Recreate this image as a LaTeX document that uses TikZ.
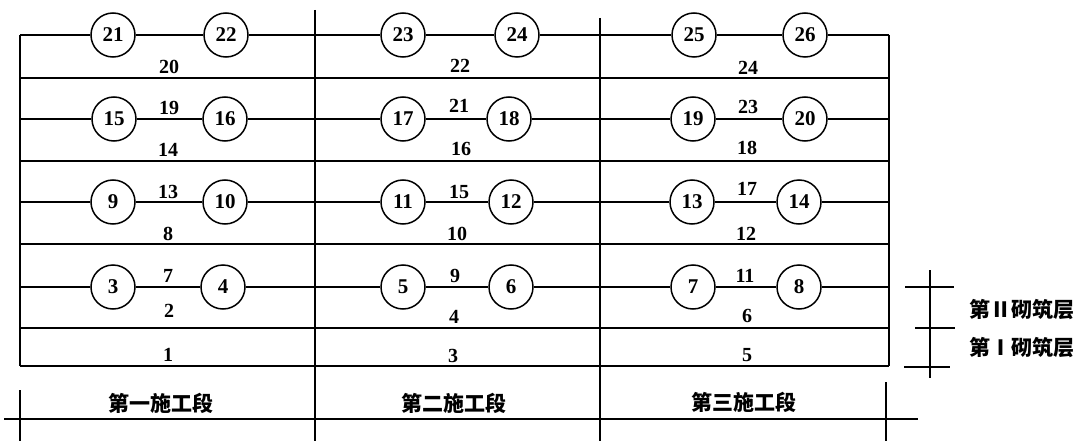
\documentclass[tikz,border=0pt]{standalone}
\usepackage{fontspec}
\setmainfont{Liberation Serif}
\newfontfamily\cjk{Noto Sans CJK SC}
\begin{document}
\begin{tikzpicture}[x=1pt,y=-1pt,line width=1.5pt,
  nd/.style={circle,draw,line width=1.5pt,minimum size=44pt,inner sep=0pt,font=\fontsize{21}{21}\selectfont\bfseries},
  lbl/.style={inner sep=0pt,font=\fontsize{20}{20}\selectfont\bfseries},
  cjkl/.style={inner sep=0pt,font=\fontsize{21}{21}\selectfont\cjk\bfseries},
  ln/.style={line width=1.6pt},
  bd/.style={line width=2.2pt}]
\useasboundingbox (0,0) rectangle (1091,441);
% row end coordinates
\coordinate (L1) at (20,35);  \coordinate (R1) at (889,35);
\coordinate (L2) at (20,119); \coordinate (R2) at (889,119);
\coordinate (L3) at (20,202); \coordinate (R3) at (889,202);
\coordinate (L4) at (20,287); \coordinate (R4) at (889,287);
\coordinate (H1l) at (20,78);  \coordinate (H1r) at (889,78);
\coordinate (H2l) at (20,161); \coordinate (H2r) at (889,161);
\coordinate (H3l) at (20,244); \coordinate (H3r) at (889,244);
\coordinate (H4l) at (20,328); \coordinate (H4r) at (889,328);
\coordinate (H5l) at (20,366); \coordinate (H5r) at (889,366);
% circles
\node[nd] (n21) at (113,35) {21};
\node[nd] (n22) at (226,35) {22};
\node[nd] (n23) at (403,35) {23};
\node[nd] (n24) at (517,35) {24};
\node[nd] (n25) at (694,35) {25};
\node[nd] (n26) at (805,35) {26};
\node[nd] (n15) at (114,119) {15};
\node[nd] (n16) at (225,119) {16};
\node[nd] (n17) at (403,119) {17};
\node[nd] (n18) at (509,119) {18};
\node[nd] (n19) at (693,119) {19};
\node[nd] (n20) at (805,119) {20};
\node[nd] (n9) at (113,202) {9};
\node[nd] (n10) at (225,202) {10};
\node[nd] (n11) at (403,202) {11};
\node[nd] (n12) at (511,202) {12};
\node[nd] (n13) at (692,202) {13};
\node[nd] (n14) at (799,202) {14};
\node[nd] (n3) at (113,287) {3};
\node[nd] (n4) at (223,287) {4};
\node[nd] (n5) at (403,287) {5};
\node[nd] (n6) at (511,287) {6};
\node[nd] (n7) at (693,287) {7};
\node[nd] (n8) at (799,287) {8};
% row lines
\draw[ln] (L1) -- (n21) -- (n22) -- (n23) -- (n24) -- (n25) -- (n26) -- (R1);
\draw[ln] (L2) -- (n15) -- (n16) -- (n17) -- (n18) -- (n19) -- (n20) -- (R2);
\draw[ln] (L3) -- (n9) -- (n10) -- (n11) -- (n12) -- (n13) -- (n14) -- (R3);
\draw[ln] (L4) -- (n3) -- (n4) -- (n5) -- (n6) -- (n7) -- (n8) -- (R4);
\draw[ln] (H1l) -- (H1r);
\draw[ln] (H2l) -- (H2r);
\draw[ln] (H3l) -- (H3r);
\draw[ln] (H4l) -- (H4r);
\draw[ln] (H5l) -- (H5r);
% borders
\draw[bd] (L1) -- (H5l);
\draw[bd] (R1) -- (H5r);
% dividers
\coordinate (D1t) at (315,10); \coordinate (D1b) at (315,441);
\coordinate (D2t) at (600,18); \coordinate (D2b) at (600,441);
\draw[ln] (D1t) -- (D1b);
\draw[ln] (D2t) -- (D2b);
% labels section 1
\node[lbl] (t20) at (169,67) {20};
\node[lbl] (t19) at (169,108) {19};
\node[lbl] (t14) at (168,150) {14};
\node[lbl] (t13) at (168,192) {13};
\node[lbl] (t8) at (168,234) {8};
\node[lbl] (t7) at (168,276) {7};
\node[lbl] (t2) at (169,311) {2};
\node[lbl] (t1) at (168,355) {1};
% section 2
\node[lbl] (t22) at (460,66) {22};
\node[lbl] (t21) at (459,106) {21};
\node[lbl] (t16) at (461,149) {16};
\node[lbl] (t15) at (459,192) {15};
\node[lbl] (t10) at (457,234) {10};
\node[lbl] (t9) at (455,276) {9};
\node[lbl] (t4) at (454,317) {4};
\node[lbl] (t3) at (453,356) {3};
% section 3
\node[lbl] (t24) at (748,68) {24};
\node[lbl] (t23) at (748,107) {23};
\node[lbl] (t18) at (747,148) {18};
\node[lbl] (t17) at (747,189) {17};
\node[lbl] (t12) at (746,234) {12};
\node[lbl] (t11) at (745,276) {11};
\node[lbl] (t6) at (747,316) {6};
\node[lbl] (t5) at (747,355) {5};
% bottom dimension
\coordinate (BL) at (4,419); \coordinate (BR) at (918,419);
\coordinate (BT1a) at (20,390); \coordinate (BT1b) at (20,441);
\coordinate (BT4a) at (886,382); \coordinate (BT4b) at (886,441);
\draw[ln] (BL) -- (BR);
\draw[ln] (BT1a) -- (BT1b);
\draw[ln] (BT4a) -- (BT4b);
\node[cjkl] (s1) at (161,403) {第一施工段};
\node[cjkl] (s2) at (454,403) {第二施工段};
\node[cjkl] (s3) at (744,402) {第三施工段};
% right dimension
\coordinate (RVt) at (930,270); \coordinate (RVb) at (930,378);
\coordinate (RT1a) at (905,287); \coordinate (RT1b) at (954,287);
\coordinate (RT2a) at (915,328); \coordinate (RT2b) at (955,328);
\coordinate (RT3a) at (904,367); \coordinate (RT3b) at (950,367);
\draw[ln] (RVt) -- (RVb);
\draw[ln] (RT1a) -- (RT1b);
\draw[ln] (RT2a) -- (RT2b);
\draw[ln] (RT3a) -- (RT3b);
\node[cjkl] (q2) at (1022,310) {第Ⅱ砌筑层};
\node[cjkl] (q1) at (1022,348) {第Ⅰ砌筑层};
\end{tikzpicture}
\end{document}
